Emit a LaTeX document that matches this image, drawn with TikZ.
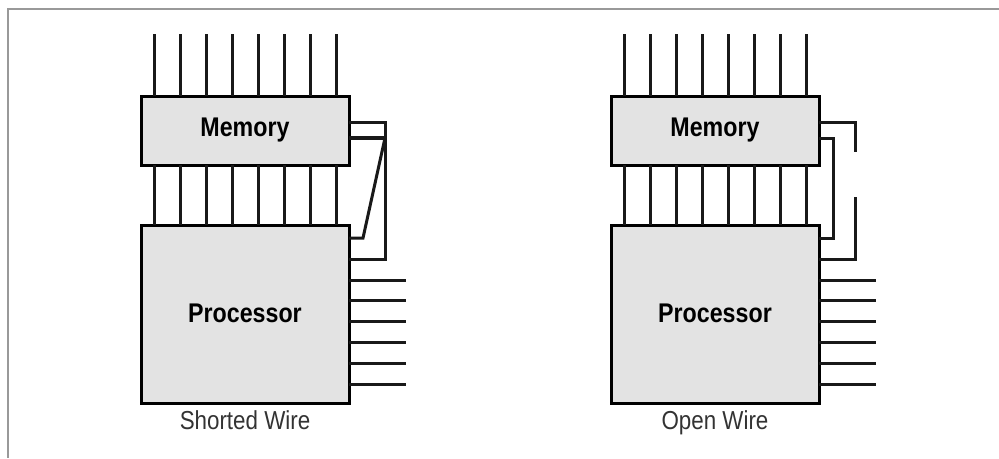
\documentclass[tikz,border=0pt]{standalone}
\usepackage{fontspec}
\setmainfont{Liberation Sans}[FakeStretch=0.86]
\usetikzlibrary{calc, positioning}

\begin{document}
\begin{tikzpicture}[x=1pt, y=-1pt, node distance=60pt]
	\tikzstyle{chip} = [draw, fill=black!11, line width=3pt, minimum width=208pt, outer sep=0pt, inner sep=0pt, font=\bfseries\fontsize{27}{27}\selectfont]
	\tikzstyle{pin} = [line width=3pt, black!90]
	\tikzstyle{caption} = [font=\fontsize{26}{26}\selectfont, black!80]

	\useasboundingbox (0,0) rectangle (999,458);
	\draw[line width=2.4pt, black!40] (999,9) -- (8,9) -- (8,458);

	\begin{scope}
		\node[chip, minimum height=69pt] (mem) at (245,130.5) {\raisebox{-1pt}{Memory}};
		\node[chip, minimum height=178pt, below=60pt of mem] (proc) {\raisebox{2pt}{Processor}};
		\node[caption, below=4pt of proc] (cap) {Shorted Wire};

		\foreach \i in {1,...,8} {
			\coordinate (m\i) at ([xshift={(\i*26-13)*1pt}]mem.south west);
			\draw[pin] (m\i) -- (m\i |- proc.north);
			\draw[pin] (m\i |- mem.north) -- ++(0,-62);
		}
		\foreach \i in {0,...,5}
			\draw[pin] ([yshift={-(55+20.8*\i)*1pt}]proc.north east) -- ++(57,0);

		\coordinate (t1) at ([yshift=-26pt]mem.north east);
		\coordinate (t2) at ([yshift=-42pt]mem.north east);
		\coordinate (b1) at ([yshift=-13pt]proc.north east);
		\coordinate (b2) at ([yshift=-34pt]proc.north east);

		\draw[pin] (t1) -- ++(36,0) |- (b2);
		\draw[pin, line width=4pt] (t2) -- ++(36,0);
		\draw[pin] ($(t2)+(36,0)$) -- ($(b1)+(14,0)$) -- (b1);
	\end{scope}

	\begin{scope}[xshift=470pt]
		\node[chip, minimum height=69pt] (mem) at (245,130.5) {\raisebox{-1pt}{Memory}};
		\node[chip, minimum height=178pt, below=60pt of mem] (proc) {\raisebox{2pt}{Processor}};
		\node[caption, below=4pt of proc] (cap) {Open Wire};

		\foreach \i in {1,...,8} {
			\coordinate (m\i) at ([xshift={(\i*26-13)*1pt}]mem.south west);
			\draw[pin] (m\i) -- (m\i |- proc.north);
			\draw[pin] (m\i |- mem.north) -- ++(0,-62);
		}
		\foreach \i in {0,...,5}
			\draw[pin] ([yshift={-(55+20.8*\i)*1pt}]proc.north east) -- ++(57,0);

		\coordinate (t1) at ([yshift=-26pt]mem.north east);
		\coordinate (t2) at ([yshift=-42pt]mem.north east);
		\coordinate (b1) at ([yshift=-13pt]proc.north east);
		\coordinate (b2) at ([yshift=-34pt]proc.north east);

		\draw[pin] (t1) -- ++(36,0) -- ++(0,30);
		\draw[pin] (t2) -- ++(14,0) |- (b1);
		\draw[pin] (b2) -- ++(36,0) -- ++(0,-62);
	\end{scope}
\end{tikzpicture}
\end{document}
